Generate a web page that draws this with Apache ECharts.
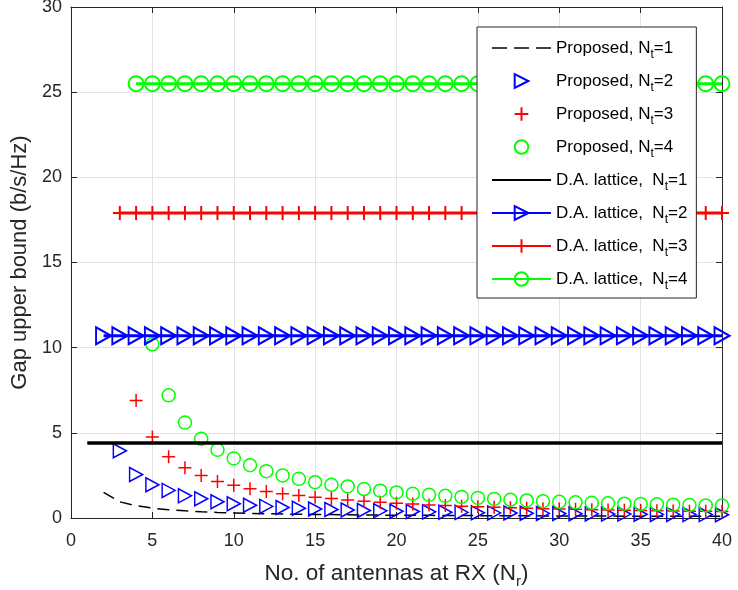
<!DOCTYPE html>
<html lang="en">
<head>
    <meta charset="UTF-8">
    <title>Gap upper bound</title>
    <script src="https://cdn.jsdelivr.net/npm/echarts@6/dist/echarts.min.js"></script>
</head>
<body style="margin:0">

<div id="main" style="width: 738px;height:590px;"></div>
<script>
    // proposed bound, one value per Nr starting at Nr = Nt + 1
    var propNt1 = [1.5, 0.95, 0.72, 0.58, 0.48, 0.42, 0.37, 0.33, 0.3, 0.27, 0.25, 0.23, 0.22, 0.21, 0.2, 0.19, 0.18, 0.17, 0.165, 0.16,
        0.155, 0.15, 0.145, 0.14, 0.135, 0.13, 0.127, 0.124, 0.121, 0.118, 0.115, 0.112, 0.11, 0.108, 0.106, 0.104, 0.102, 0.1, 0.098];
    var propNt2 = [3.95, 2.55, 1.95, 1.62, 1.3, 1.13, 0.95, 0.84, 0.75, 0.68, 0.62, 0.57, 0.53, 0.5, 0.47, 0.44, 0.42, 0.4, 0.38, 0.36,
        0.34, 0.33, 0.31, 0.3, 0.29, 0.28, 0.27, 0.26, 0.25, 0.24, 0.23, 0.23, 0.22, 0.21, 0.21, 0.2, 0.2, 0.19];
    var propNt3 = [6.9, 4.75, 3.6, 2.95, 2.5, 2.15, 1.93, 1.72, 1.55, 1.42, 1.32, 1.22, 1.14, 1.06, 0.99, 0.93, 0.87, 0.82, 0.77, 0.73,
        0.69, 0.66, 0.63, 0.6, 0.57, 0.55, 0.53, 0.51, 0.49, 0.47, 0.45, 0.44, 0.42, 0.41, 0.4, 0.39, 0.38];
    var propNt4 = [10.2, 7.2, 5.6, 4.65, 4.0, 3.5, 3.1, 2.75, 2.5, 2.3, 2.1, 1.95, 1.85, 1.7, 1.6, 1.5, 1.42, 1.36, 1.3, 1.24,
        1.18, 1.12, 1.07, 1.03, 0.99, 0.95, 0.92, 0.89, 0.86, 0.84, 0.82, 0.8, 0.78, 0.76, 0.74, 0.73];
    // D.A. lattice bound (flat in Nr), starts at Nr = Nt
    var latticeGap = [4.4, 10.7, 17.9, 25.5];
    var nrMax = 40;
    var ntList = [1, 2, 3, 4];

    var blue = '#0000ff', red = '#ff0000', green = '#00ff00', black = '#000000';
    var axisColor = '#262626';
    var fontName = 'Liberation Sans';
    var plusPath = 'path://M0,5L10,5M5,0L5,10';

    function withX(vals, start) {
        return vals.map(function (v, i) { return [start + i, v]; });
    }

    function flatLine(v, start) {
        var out = [];
        for (var x = start; x <= nrMax; x++) out.push([x, v]);
        return out;
    }

    function label(prefix, nt) {
        return '{n|' + prefix + 'N}{s|t}{n|=' + nt + '}';
    }

    var propData = [propNt1, propNt2, propNt3, propNt4];
    var colors = [black, blue, red, green];
    var symbols = ['none', 'triangle', plusPath, 'circle'];
    var propSize = [0, [14, 13], 13, 13];
    var latSize = [0, [17, 15], 14, 15];

    var series = [];
    var legendData = [];
    var hidden = {color: 'transparent', borderColor: 'transparent', borderWidth: 0};

    ntList.forEach(function (nt, k) {
        var s = {
            name: label('Proposed, ', nt),
            type: 'line',
            data: withX(propData[k], nt + 1),
            z: 2
        };
        if (k === 0) {
            s.symbol = 'none';
            s.lineStyle = {color: black, width: 1.5, type: [12, 7]};
            s.itemStyle = {color: black};
            legendData.push({name: s.name, itemStyle: hidden, lineStyle: {type: [15, 7], width: 1.5}});
        } else {
            s.symbol = symbols[k];
            s.symbolSize = propSize[k];
            s.symbolRotate = k === 1 ? -90 : 0;
            s.lineStyle = {color: colors[k], opacity: 0};
            s.itemStyle = {color: 'transparent', borderColor: colors[k], borderWidth: 1.5};
            legendData.push({name: s.name, lineStyle: {opacity: 0}});
        }
        series.push(s);
    });
    ntList.forEach(function (nt, k) {
        var s = {
            name: label('D.A. lattice,  ', nt),
            type: 'line',
            data: flatLine(latticeGap[k], nt),
            symbol: symbols[k],
            symbolSize: latSize[k],
            symbolRotate: k === 1 ? -90 : 0,
            lineStyle: {color: colors[k], width: k === 0 ? 3.5 : 3},
            itemStyle: {color: 'transparent', borderColor: colors[k], borderWidth: 2},
            z: 3
        };
        series.push(s);
        legendData.push(k === 0 ? {name: s.name, itemStyle: hidden} : {name: s.name});
    });

    var myChart = echarts.init(document.getElementById('main'));
    myChart.setOption({
        animation: false,
        backgroundColor: '#fff',
        textStyle: {fontFamily: fontName},
        grid: {left: 71, right: 16, top: 7, bottom: 72, outerBoundsMode: 'none'},
        legend: {
            orient: 'vertical',
            left: 477,
            top: 27,
            padding: [8, 9, 6, 14],
            backgroundColor: '#fff',
            borderColor: axisColor,
            borderWidth: 1,
            itemWidth: 59,
            itemHeight: 17,
            itemGap: 7,
            data: legendData,
            textStyle: {
                fontFamily: fontName,
                rich: {
                    n: {fontSize: 17, color: '#000', fontFamily: fontName, lineHeight: 20},
                    s: {fontSize: 12, color: '#000', fontFamily: fontName, padding: [14, 0, 0, 0], lineHeight: 20}
                }
            }
        },
        xAxis: [{
            type: 'value',
            min: 0,
            max: 40,
            interval: 5,
            name: '{n|No. of antennas at RX (N}{s|r}{n|)}',
            nameLocation: 'middle',
            nameGap: 40,
            nameTextStyle: {
                rich: {
                    n: {fontSize: 22.5, color: axisColor, fontFamily: fontName},
                    s: {fontSize: 15, color: axisColor, fontFamily: fontName, padding: [16, 0, 0, 0]}
                }
            },
            axisLine: {lineStyle: {color: axisColor}},
            axisTick: {inside: true, length: 6, lineStyle: {color: axisColor}},
            axisLabel: {fontSize: 18, color: axisColor, margin: 14},
            splitLine: {lineStyle: {color: '#e3e3e3'}}
        }, {
            type: 'value',
            position: 'top',
            min: 0,
            max: 40,
            interval: 5,
            axisLine: {show: true, onZero: false, lineStyle: {color: axisColor}},
            axisTick: {inside: true, length: 6, lineStyle: {color: axisColor}},
            axisLabel: {show: false},
            splitLine: {show: false}
        }],
        yAxis: [{
            type: 'value',
            min: 0,
            max: 30,
            interval: 5,
            name: 'Gap upper bound (b/s/Hz)',
            nameLocation: 'middle',
            nameGap: 38,
            nameTextStyle: {fontSize: 22, color: axisColor},
            axisLine: {show: true, lineStyle: {color: axisColor}},
            axisTick: {show: true, inside: true, length: 6, lineStyle: {color: axisColor}},
            axisLabel: {fontSize: 18, color: axisColor, margin: 9},
            splitLine: {lineStyle: {color: '#e3e3e3'}}
        }, {
            type: 'value',
            position: 'right',
            min: 0,
            max: 30,
            interval: 5,
            axisLine: {show: true, onZero: false, lineStyle: {color: axisColor}},
            axisTick: {show: true, inside: true, length: 6, lineStyle: {color: axisColor}},
            axisLabel: {show: false},
            splitLine: {show: false}
        }],
        series: series
    });
</script>
</body>
</html>
